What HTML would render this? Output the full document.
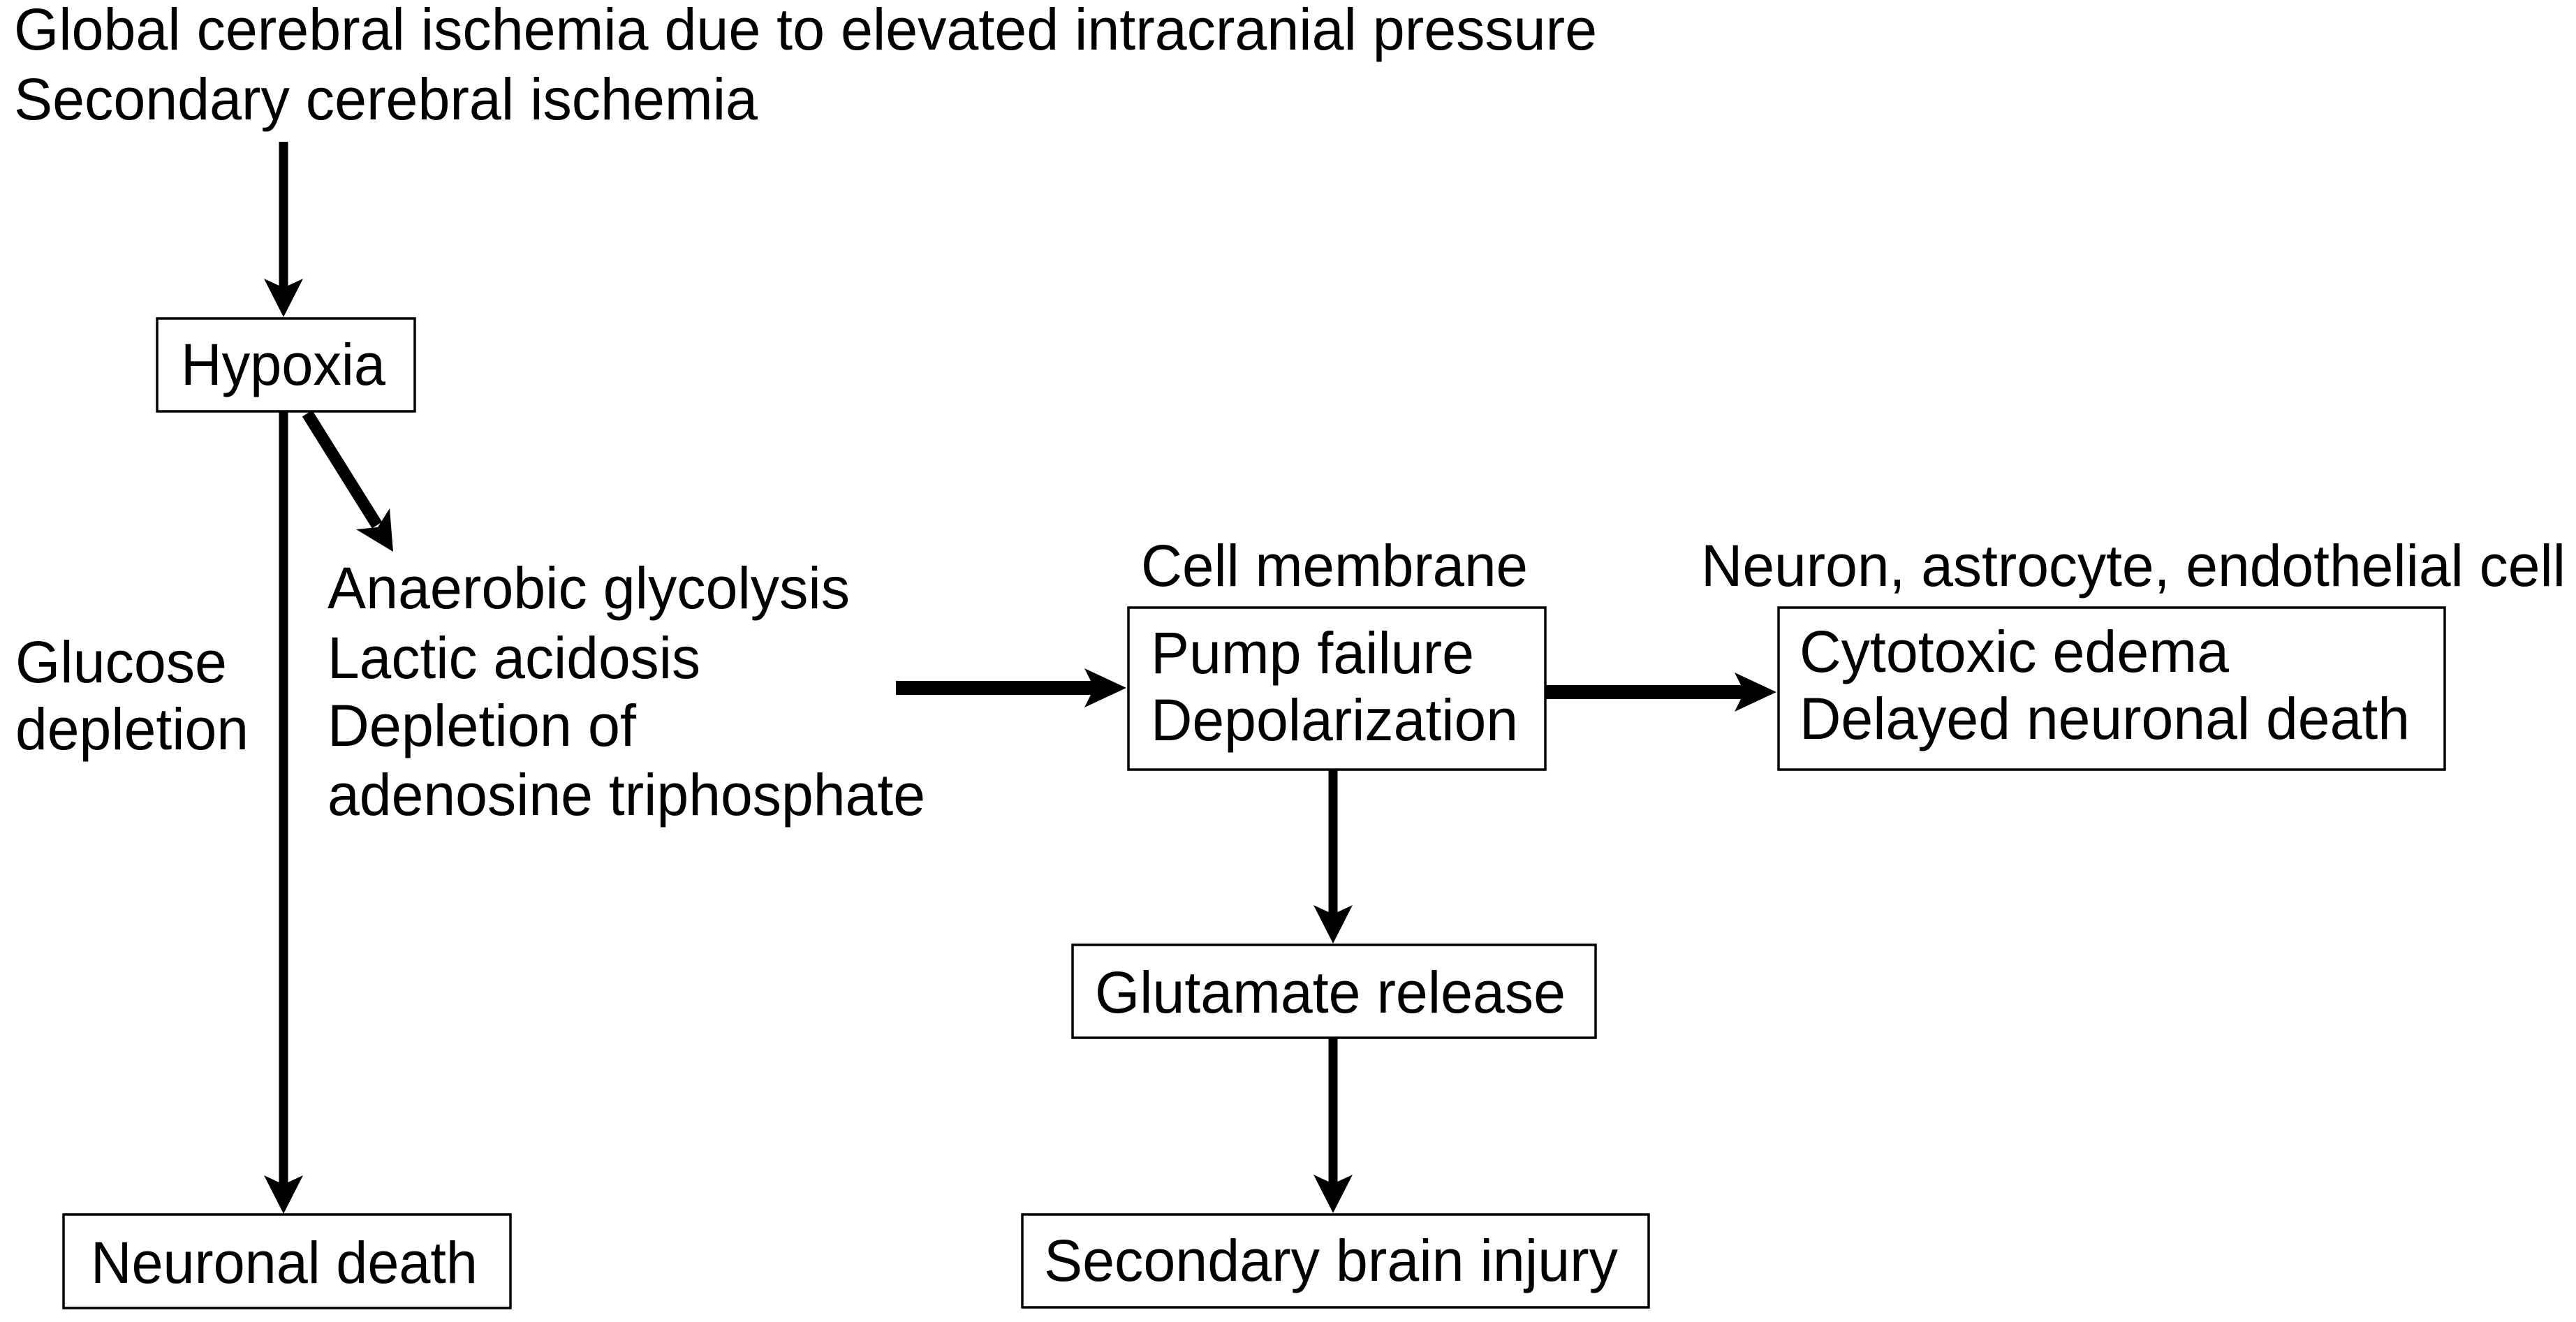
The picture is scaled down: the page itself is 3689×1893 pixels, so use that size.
<!DOCTYPE html>
<html><head><meta charset="utf-8"><style>
html,body{margin:0;padding:0;background:#fff;}
svg{display:block;}
text{font-family:"Liberation Sans",Arial,sans-serif;font-size:84px;fill:#000;}
</style></head><body>
<svg width="3689" height="1893" viewBox="0 0 3689 1893" xmlns="http://www.w3.org/2000/svg">
<g>
<text x="20" y="71" textLength="2267" lengthAdjust="spacingAndGlyphs">Global cerebral ischemia due to elevated intracranial pressure</text>
<text x="20" y="171" textLength="1065" lengthAdjust="spacingAndGlyphs">Secondary cerebral ischemia</text>

<text x="259" y="551" textLength="293" lengthAdjust="spacingAndGlyphs">Hypoxia</text>

<text x="469" y="871" textLength="748" lengthAdjust="spacingAndGlyphs">Anaerobic glycolysis</text>
<text x="469" y="971" textLength="534" lengthAdjust="spacingAndGlyphs">Lactic acidosis</text>
<text x="469" y="1068" textLength="442" lengthAdjust="spacingAndGlyphs">Depletion of</text>
<text x="469" y="1167" textLength="856" lengthAdjust="spacingAndGlyphs">adenosine triphosphate</text>

<text x="22" y="977" textLength="303" lengthAdjust="spacingAndGlyphs">Glucose</text>
<text x="22" y="1073" textLength="334" lengthAdjust="spacingAndGlyphs">depletion</text>

<text x="1634" y="839" textLength="554" lengthAdjust="spacingAndGlyphs">Cell membrane</text>
<text x="2436" y="839" textLength="1238" lengthAdjust="spacingAndGlyphs">Neuron, astrocyte, endothelial cell</text>

<text x="1648" y="964" textLength="463" lengthAdjust="spacingAndGlyphs">Pump failure</text>
<text x="1648" y="1060" textLength="526" lengthAdjust="spacingAndGlyphs">Depolarization</text>

<text x="2577" y="962" textLength="615" lengthAdjust="spacingAndGlyphs">Cytotoxic edema</text>
<text x="2577" y="1058" textLength="874" lengthAdjust="spacingAndGlyphs">Delayed neuronal death</text>

<text x="1568" y="1450" textLength="674" lengthAdjust="spacingAndGlyphs">Glutamate release</text>
<text x="1495" y="1834" textLength="822" lengthAdjust="spacingAndGlyphs">Secondary brain injury</text>
<text x="130" y="1837" textLength="554" lengthAdjust="spacingAndGlyphs">Neuronal death</text>
</g>

<g fill="none" stroke="#000" stroke-width="3.5">
<rect x="225" y="456" width="369" height="133"/>
<rect x="1616" y="870" width="597" height="232"/>
<rect x="2547" y="870" width="954" height="232"/>
<rect x="1536" y="1353" width="749" height="133"/>
<rect x="1464" y="1739" width="897" height="133"/>
<rect x="91" y="1739" width="640" height="134"/>
</g>

<g stroke="#000" stroke-width="13">
<line x1="406" y1="203" x2="406" y2="420"/>
<line x1="406" y1="589" x2="406" y2="1700"/>
<line x1="1909" y1="1102" x2="1909" y2="1315"/>
<line x1="1909" y1="1486" x2="1909" y2="1700"/>
<line x1="440" y1="592" x2="540" y2="752" stroke-width="17"/>
</g>
<g stroke="#000" stroke-width="20">
<line x1="1283" y1="985" x2="1575" y2="985"/>
<line x1="2213" y1="991" x2="2505" y2="991"/>
</g>

<g fill="#000">
<polygon points="406,454 378,399 406,412 434,399"/>
<polygon points="406,1738 378,1683 406,1696 434,1683"/>
<polygon points="1909,1351 1881,1296 1909,1309 1937,1296"/>
<polygon points="1909,1737 1881,1682 1909,1695 1937,1682"/>
<polygon points="1613,985 1553,957 1567,985 1553,1013"/>
<polygon points="2544,991 2484,963 2498,991 2484,1019"/>
<polygon points="563,790 510,758 541,755 558,728"/>
</g>
</svg>
</body></html>
